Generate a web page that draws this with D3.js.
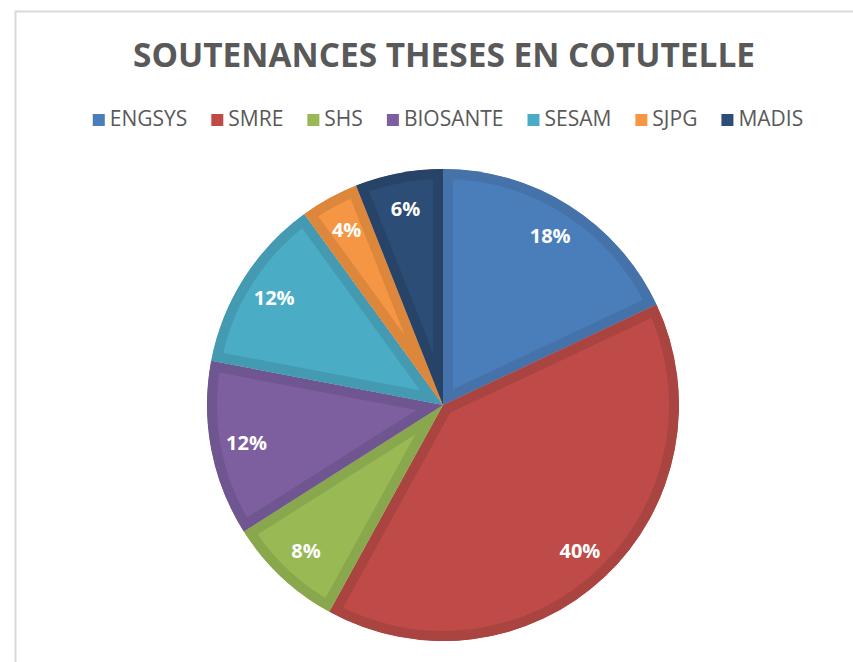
<!DOCTYPE html>
<html>
<head>
<meta charset="utf-8">
<script src="https://cdn.jsdelivr.net/npm/d3@7"></script>
<style>
  body { margin: 0; background: #fff; }
  svg { display: block; font-family: "Open Sans", sans-serif; }
</style>
</head>
<body>
<div id="chart"></div>
<script>
const width = 853, height = 662;

// data
const categories = ["ENGSYS", "SMRE", "SHS", "BIOSANTE", "SESAM", "SJPG", "MADIS"];
const values = [9, 20, 4, 6, 6, 2, 3];
const fills = ["#4a7ebb", "#be4b48", "#98b954", "#7d5fa0", "#4aacc5", "#f59644", "#2c4d75"];
const borders = ["#4572a9", "#a94441", "#89a74c", "#705690", "#439ab1", "#dd873d", "#274468"];

const svg = d3.select("#chart").append("svg")
  .attr("width", width)
  .attr("height", height);

// chart frame
svg.append("rect")
  .attr("x", 15.5).attr("y", 11.5)
  .attr("width", width + 20).attr("height", height + 20)
  .attr("fill", "none")
  .attr("stroke", "#d9d9d9")
  .attr("stroke-width", 2);

svg.append("text")
  .attr("x", 444)
  .attr("y", 67)
  .attr("text-anchor", "middle")
  .attr("font-size", 33.5)
  .attr("font-weight", "bold")
  .attr("fill", "#595959")
  .attr("textLength", 622)
  .attr("lengthAdjust", "spacingAndGlyphs")
  .text("SOUTENANCES THESES EN COTUTELLE");

// legend, laid out left to right and centred
const legend = svg.append("g");
let lx = 0;
const gap = 24;
categories.forEach((c, i) => {
  const item = legend.append("g").attr("transform", "translate(" + lx + ",0)");
  item.append("rect")
    .attr("x", 0).attr("y", 114)
    .attr("width", 12).attr("height", 12)
    .attr("fill", fills[i]);
  const t = item.append("text")
    .attr("x", 17).attr("y", 126)
    .attr("font-size", 21)
    .attr("fill", "#595959")
    .text(c);
  lx += 17 + t.node().getComputedTextLength() + gap;
});
lx -= gap;
legend.attr("transform", "translate(" + (448 - lx / 2) + ",0)");

// pie
const cx = 443, cy = 405, radius = 236;
const pie = d3.pie().sort(null).value(d => d);
const arcs = pie(values);
const arc = d3.arc().innerRadius(0).outerRadius(radius);
const labelArc = d3.arc().innerRadius(200).outerRadius(200);
const total = d3.sum(values);

const g = svg.append("g").attr("transform", "translate(" + cx + "," + cy + ")");
const defs = svg.append("defs");

arcs.forEach((d, i) => {
  defs.append("clipPath").attr("id", "clip" + i)
    .append("path").attr("d", arc(d));
});

g.selectAll("path.slice")
  .data(arcs)
  .join("path")
  .attr("class", "slice")
  .attr("d", arc)
  .attr("fill", (d, i) => fills[i])
  .attr("stroke", (d, i) => borders[i])
  .attr("stroke-width", 20)
  .attr("stroke-linejoin", "miter")
  .attr("clip-path", (d, i) => "url(#clip" + i + ")");

g.selectAll("text.label")
  .data(arcs)
  .join("text")
  .attr("class", "label")
  .attr("transform", d => "translate(" + labelArc.centroid(d) + ")")
  .attr("text-anchor", "middle")
  .attr("dy", "0.36em")
  .attr("font-size", 20)
  .attr("font-weight", "bold")
  .attr("fill", "#fff")
  .text(d => Math.round(d.value / total * 100) + "%");
</script>
</body>
</html>
